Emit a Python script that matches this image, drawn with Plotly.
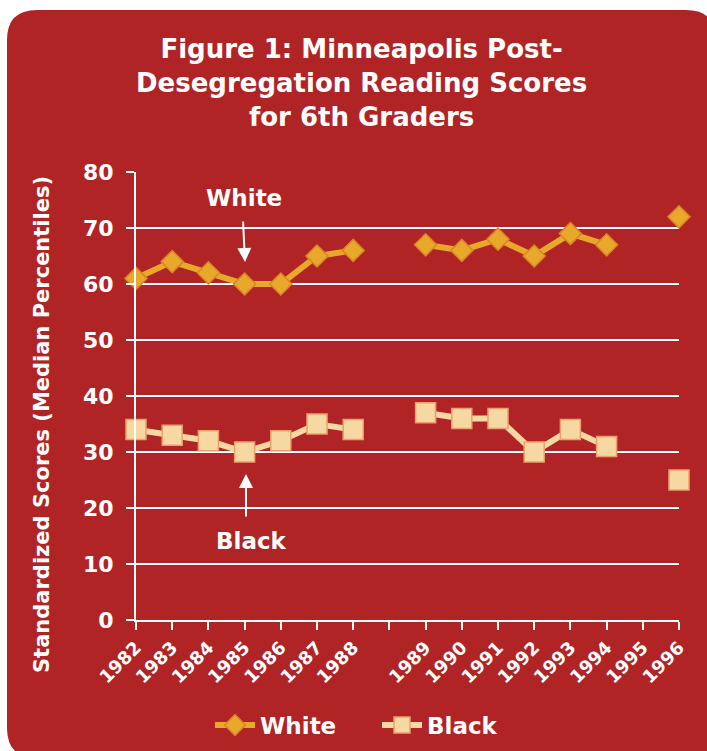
import plotly.graph_objects as go

# ---------------- data ----------------
years = ['1982', '1983', '1984', '1985', '1986', '1987', '1988', ' ',
         '1989', '1990', '1991', '1992', '1993', '1994', '1995', '1996']
white_scores = [61, 64, 62, 60, 60, 65, 66, None, 67, 66, 68, 65, 69, 67, None, 72]
black_scores = [34, 33, 32, 30, 32, 35, 34, None, 37, 36, 36, 30, 34, 31, None, 25]
y_ticks = [0, 10, 20, 30, 40, 50, 60, 70, 80]

# ---------------- layout geometry (pixels) ----------------
W, H = 707, 751
L, R, T, B = 136, 28, 172, 131
PW, PH = W - L - R, H - T - B

def px(xp):
    return (xp - L) / PW

def py(yp):
    return (H - B - yp) / PH

BG = '#B02426'
FONT = 'DejaVu Sans'
WHITE_COL = '#E8A92B'
WHITE_EDGE = '#D8852A'
BLACK_COL = '#F6D9A2'
BLACK_EDGE = '#EE9E6E'

fig = go.Figure()

fig.add_trace(go.Scatter(
    x=years, y=white_scores, name='White', mode='lines+markers',
    line=dict(color=WHITE_COL, width=6),
    marker=dict(symbol='diamond', size=17, color=WHITE_COL,
                line=dict(color=WHITE_EDGE, width=1.5)),
    connectgaps=False, cliponaxis=False))

fig.add_trace(go.Scatter(
    x=years, y=black_scores, name='Black', mode='lines+markers',
    line=dict(color=BLACK_COL, width=6),
    marker=dict(symbol='square', size=20, color=BLACK_COL,
                line=dict(color=BLACK_EDGE, width=1.5)),
    connectgaps=False, cliponaxis=False))

# rounded red background panel
x0, x1, y0, y1, r = 7, 716, 10, 758, 30
path = (f"M {px(x0+r)},{py(y0)} L {px(x1-r)},{py(y0)} "
        f"Q {px(x1)},{py(y0)} {px(x1)},{py(y0+r)} "
        f"L {px(x1)},{py(y1-r)} Q {px(x1)},{py(y1)} {px(x1-r)},{py(y1)} "
        f"L {px(x0+r)},{py(y1)} Q {px(x0)},{py(y1)} {px(x0)},{py(y1-r)} "
        f"L {px(x0)},{py(y0+r)} Q {px(x0)},{py(y0)} {px(x0+r)},{py(y0)} Z")
fig.add_shape(type='path', path=path, xref='paper', yref='paper',
              fillcolor=BG, line=dict(width=0), layer='below')

annotations = [
    dict(text='Figure 1: Minneapolis Post-<br>Desegregation Reading Scores<br>for 6th Graders',
         x=px(361), y=py(83), xref='paper', yref='paper', showarrow=False,
         xanchor='center', yanchor='middle',
         font=dict(family=FONT, size=26, color='white', weight='bold')),
    dict(text='Standardized Scores (Median Percentiles)',
         x=px(42), y=py(425), xref='paper', yref='paper', showarrow=False,
         textangle=-90, xanchor='center', yanchor='middle',
         font=dict(family=FONT, size=21, color='white', weight='bold')),
    dict(text='White', x=px(244), y=py(198), xref='paper', yref='paper',
         showarrow=False, xanchor='center', yanchor='middle',
         font=dict(family=FONT, size=23, color='white', weight='bold')),
    dict(text='', x=px(245), y=py(262), xref='paper', yref='paper',
         ax=-2, ay=-42, showarrow=True, arrowhead=2, arrowsize=1.4,
         arrowwidth=2, arrowcolor='white'),
    dict(text='Black', x=px(251), y=py(541), xref='paper', yref='paper',
         showarrow=False, xanchor='center', yanchor='middle',
         font=dict(family=FONT, size=23, color='white', weight='bold')),
    dict(text='', x=px(246), y=py(474), xref='paper', yref='paper',
         ax=0, ay=44, showarrow=True, arrowhead=2, arrowsize=1.4,
         arrowwidth=2, arrowcolor='white'),
]

fig.update_layout(
    width=W, height=H,
    margin=dict(l=L, r=R, t=T, b=B, pad=0, autoexpand=False),
    paper_bgcolor='white', plot_bgcolor='rgba(0,0,0,0)',
    font=dict(family=FONT, color='white'),
    annotations=annotations,
    showlegend=True,
    legend=dict(orientation='h', x=px(210), y=py(725), xanchor='left',
                yanchor='middle', bgcolor='rgba(0,0,0,0)',
                font=dict(family=FONT, size=23, color='white', weight='bold'),
                itemwidth=40, tracegroupgap=0, entrywidth=112,
                entrywidthmode='pixels'),
    xaxis=dict(type='category', categoryorder='array', categoryarray=years,
               range=[0, 15], showgrid=False, zeroline=False, automargin=False,
               showline=True, linecolor='white', linewidth=2,
               ticks='outside', ticklen=8, tickwidth=2, tickcolor='white',
               tickangle=-45,
               tickfont=dict(family=FONT, size=18, color='white', weight='bold')),
    yaxis=dict(range=[0, 80], tickvals=y_ticks, showgrid=True, automargin=False,
               gridcolor='white', gridwidth=2, zeroline=False,
               showline=True, linecolor='white', linewidth=2,
               ticks='outside', ticklen=8, tickwidth=2, tickcolor='white',
               ticklabelstandoff=8,
               tickfont=dict(family=FONT, size=22, color='white', weight='bold')),
)

fig.write_html('out.html', config={'displayModeBar': False},
               post_script="document.body.style.margin='0';document.body.style.overflow='hidden';")
